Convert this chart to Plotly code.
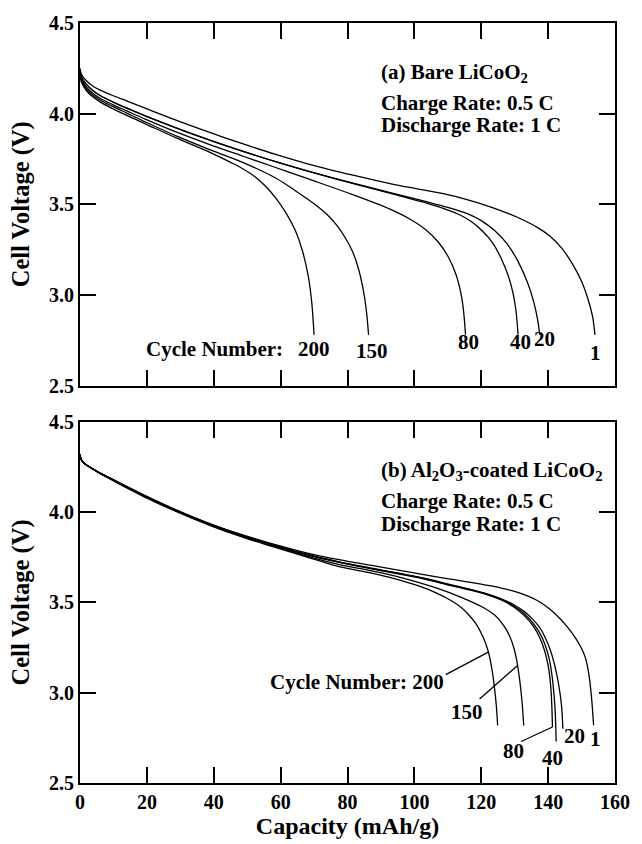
import plotly.graph_objects as go

# ---- (a) bare LiCoO2: discharge curves, capacity (mAh/g) vs voltage (V) ----
a1_cap = [0, 0.5, 2, 4, 6, 9.75, 14, 19.5, 29.3, 39, 48.8, 58.5, 68.3, 82, 93.7, 108.3, 116,
          122.9, 128, 132.7, 137, 140.5, 144, 147.3, 150, 152.2, 153.3, 154]
a1_v = [4.25, 4.215, 4.18, 4.15, 4.13, 4.10, 4.07, 4.03, 3.96, 3.895, 3.833, 3.775, 3.722,
        3.659, 3.61, 3.56, 3.525, 3.485, 3.45, 3.412, 3.37, 3.325, 3.26, 3.17, 3.075, 2.96, 2.88, 2.78]

a20_cap = [0, 0.5, 2, 4, 6, 9.75, 14, 19.5, 29.3, 39, 48.8, 58.5, 68.3, 82, 93.7, 103, 110,
           116, 120, 124, 127.8, 131, 134, 135.7, 136.8, 137.5]
a20_v = [4.24, 4.20, 4.16, 4.125, 4.10, 4.065, 4.03, 3.988, 3.918, 3.853, 3.792, 3.735, 3.683,
         3.615, 3.56, 3.517, 3.483, 3.447, 3.41, 3.355, 3.28, 3.185, 3.06, 2.96, 2.87, 2.78]

a40_cap = [0, 0.5, 2, 4, 6, 9.75, 14, 19.5, 29.3, 39, 48.8, 58.5, 68.3, 82, 93.7, 103, 108,
           113.2, 117, 120.5, 123.5, 126, 128, 129.5, 130.4, 131]
a40_v = [4.24, 4.20, 4.16, 4.125, 4.10, 4.065, 4.03, 3.988, 3.918, 3.853, 3.792, 3.735, 3.681,
         3.612, 3.556, 3.51, 3.482, 3.445, 3.405, 3.35, 3.285, 3.20, 3.11, 3.01, 2.91, 2.78]

a80_cap = [0, 0.5, 2, 4, 6, 9.75, 14, 19.5, 29.3, 39, 48.8, 58.5, 68.3, 82, 93.7, 99, 103.4,
           107, 110, 112.5, 114.3, 115.3]
a80_v = [4.23, 4.19, 4.145, 4.11, 4.085, 4.05, 4.015, 3.97, 3.895, 3.828, 3.765, 3.703, 3.64,
         3.55, 3.465, 3.415, 3.36, 3.295, 3.215, 3.11, 2.97, 2.78]

a150_cap = [0, 0.5, 2, 4, 6, 9.75, 14, 19.5, 29.3, 39, 48.8, 58.5, 64.4, 70.2, 74.1, 77, 79.5,
            81.5, 83.2, 84.6, 85.6, 86.3]
a150_v = [4.22, 4.18, 4.135, 4.10, 4.075, 4.04, 4.003, 3.955, 3.873, 3.80, 3.73, 3.645, 3.575,
          3.50, 3.44, 3.38, 3.31, 3.24, 3.15, 3.04, 2.92, 2.78]

a200_cap = [0, 0.5, 2, 4, 6, 9.75, 14, 19.5, 29.3, 39, 44.9, 48.8, 52.7, 56, 58.5, 61.5, 64.4,
            66.5, 68.3, 69.3, 70]
a200_v = [4.21, 4.17, 4.125, 4.09, 4.065, 4.028, 3.99, 3.944, 3.862, 3.785, 3.733, 3.695, 3.647,
          3.59, 3.535, 3.455, 3.355, 3.245, 3.10, 2.96, 2.78]

# ---- (b) Al2O3-coated LiCoO2 ----
b1_cap = [0, 0.3, 1, 2.3, 5, 9.2, 14, 18.9, 28.7, 38.4, 48.2, 57.9, 67.7, 77.5, 87.2, 101.5,
          111.2, 121, 126, 130.7, 134, 136.6, 139.5, 142.4, 145.5, 148.3, 150, 151.2, 152.2, 153, 153.6]
b1_v = [4.32, 4.295, 4.275, 4.257, 4.228, 4.187, 4.142, 4.097, 4.013, 3.94, 3.877, 3.823, 3.775,
        3.737, 3.705, 3.658, 3.628, 3.598, 3.58, 3.557, 3.535, 3.512, 3.478, 3.432, 3.37, 3.30,
        3.245, 3.19, 3.10, 2.97, 2.82]

b20_cap = [0, 0.3, 1, 2.3, 5, 9.2, 14, 18.9, 28.7, 38.4, 48.2, 57.9, 67.7, 77.5, 87.2, 101.5,
           111.2, 121, 125.8, 129.5, 132.7, 135.5, 137.5, 139, 140.5, 142, 143.2, 144, 144.4]
b20_v = [4.32, 4.295, 4.275, 4.257, 4.227, 4.186, 4.14, 4.095, 4.01, 3.937, 3.873, 3.818, 3.767,
         3.725, 3.69, 3.64, 3.597, 3.552, 3.522, 3.49, 3.452, 3.405, 3.36, 3.31, 3.245, 3.15,
         3.04, 2.93, 2.80]

b40_cap = [0, 0.3, 1, 2.3, 5, 9.2, 14, 18.9, 28.7, 38.4, 48.2, 57.9, 67.7, 77.5, 87.2, 101.5,
           111.2, 121, 125.8, 129.5, 132.7, 135.5, 137.5, 139, 140.3, 141.2, 141.8, 142.1, 142.3]
b40_v = [4.32, 4.295, 4.275, 4.257, 4.227, 4.186, 4.14, 4.095, 4.01, 3.937, 3.873, 3.818, 3.766,
         3.723, 3.688, 3.638, 3.595, 3.55, 3.518, 3.483, 3.44, 3.385, 3.33, 3.27, 3.19, 3.09,
         2.98, 2.90, 2.80]

b80_cap = [0, 0.3, 1, 2.3, 5, 9.2, 14, 18.9, 28.7, 38.4, 48.2, 57.9, 67.7, 77.5, 87.2, 101.5,
           111.2, 121, 125.8, 129.5, 132.7, 135.5, 137.5, 139, 140.1, 140.8, 141.1, 141.3]
b80_v = [4.32, 4.295, 4.275, 4.257, 4.227, 4.186, 4.14, 4.095, 4.01, 3.937, 3.873, 3.818, 3.765,
         3.722, 3.686, 3.636, 3.592, 3.548, 3.515, 3.478, 3.43, 3.37, 3.305, 3.23, 3.14, 3.03,
         2.93, 2.81]

b150_cap = [0, 0.3, 1, 2.3, 5, 9.2, 14, 18.9, 28.7, 38.4, 48.2, 57.9, 67.7, 77.5, 87.2, 96,
            106.3, 114, 121, 124, 126, 127.8, 129.3, 130.5, 131.5, 132.2, 132.7]
b150_v = [4.32, 4.295, 4.275, 4.257, 4.226, 4.184, 4.137, 4.091, 4.007, 3.933, 3.868, 3.812,
          3.758, 3.71, 3.675, 3.638, 3.582, 3.528, 3.468, 3.43, 3.39, 3.34, 3.275, 3.19, 3.07,
          2.95, 2.818]

b200_cap = [0, 0.3, 1, 2.3, 5, 9.2, 14, 18.9, 28.7, 38.4, 48.2, 57.9, 67.7, 77.5, 87.2, 94,
            101.5, 106.5, 111.2, 114, 116.1, 118.5, 120.5, 122, 123.1, 124, 124.5, 124.9]
b200_v = [4.32, 4.295, 4.275, 4.257, 4.225, 4.182, 4.134, 4.088, 4.004, 3.93, 3.864, 3.808,
          3.753, 3.698, 3.662, 3.632, 3.59, 3.553, 3.508, 3.472, 3.435, 3.38, 3.31, 3.235, 3.14,
          3.02, 2.93, 2.818]

# cycle-number labels: (text, capacity, voltage)
a_label_text = ["200", "150", "80", "40", "20", "1"]
a_label_cap = [70.0, 87.2, 116.2, 131.7, 139.0, 154.2]
a_label_v = [2.70, 2.69, 2.74, 2.74, 2.755, 2.68]

b_label_text = ["Cycle Number: 200", "150", "80", "40", "20", "1"]
b_label_cap = [109.6, 115.6, 129.7, 141.4, 147.8, 154.1]
b_label_v = [3.057, 2.892, 2.68, 2.638, 2.763, 2.745]

# leader lines in panel (b): (cap0, v0, cap1, v1)
b_leaders = [
    (122.1, 3.225, 109.4, 3.10),
    (130.8, 3.15, 119.5, 2.965),
    (141.3, 2.81, 131.9, 2.73),
    (142.3, 2.80, 142.4, 2.73),
]

FONT = "Liberation Serif"
LINE = dict(color="black", width=1.3, shape="spline", smoothing=1.0)

fig = go.Figure()

top_curves = [(a1_cap, a1_v), (a20_cap, a20_v), (a40_cap, a40_v),
              (a80_cap, a80_v), (a150_cap, a150_v), (a200_cap, a200_v)]
bottom_curves = [(b1_cap, b1_v), (b20_cap, b20_v), (b40_cap, b40_v),
                 (b80_cap, b80_v), (b150_cap, b150_v), (b200_cap, b200_v)]

for cap, v in top_curves:
    fig.add_trace(go.Scatter(x=cap, y=v, xaxis="x2", yaxis="y2", mode="lines",
                             line=LINE, showlegend=False, hoverinfo="skip"))
for cap, v in bottom_curves:
    fig.add_trace(go.Scatter(x=cap, y=v, xaxis="x", yaxis="y", mode="lines",
                             line=LINE, showlegend=False, hoverinfo="skip"))

tickfont = dict(family=FONT, size=20, color="black", weight="bold")
xtitlefont = dict(family=FONT, size=24, color="black", weight="bold")
ytitlefont = dict(family=FONT, size=24.5, color="black", weight="bold")

XRANGE = [0, 160]
YRANGE = [2.5, 4.5]
BOTTOM_DOMAIN = [0, 0.4751]
TOP_DOMAIN = [0.5229, 1]

# boxed frame with inside ticks on all four sides
base = dict(ticks="inside", ticklen=16, tickwidth=2, tickcolor="black", mirror="allticks",
            showline=True, linewidth=2, linecolor="black",
            showgrid=False, zeroline=False, tickfont=tickfont)
xstyle = dict(base, range=XRANGE, dtick=20, tick0=0)
ystyle = dict(base, range=YRANGE, dtick=0.5, tick0=2.5, tickformat=".1f")

fig.update_layout(
    width=642, height=844,
    margin=dict(l=80, r=15, t=20, b=60),
    paper_bgcolor="white", plot_bgcolor="white",
    xaxis=dict(xstyle, anchor="y", domain=[0, 1],
               title=dict(text="Capacity (mAh/g)", font=xtitlefont, standoff=2)),
    yaxis=dict(ystyle, anchor="x", domain=BOTTOM_DOMAIN,
               title=dict(text="Cell Voltage (V)", font=ytitlefont, standoff=12)),
    xaxis2=dict(xstyle, anchor="y2", domain=[0, 1], showticklabels=False),
    yaxis2=dict(ystyle, anchor="x2", domain=TOP_DOMAIN,
                title=dict(text="Cell Voltage (V)", font=ytitlefont, standoff=12)),
)

annfont = dict(family=FONT, size=21, color="black", weight="bold")
ann = []

# condition text blocks
for xr, yr, head in [("x2", "y2", "(a) Bare LiCoO<sub>2</sub>"),
                     ("x", "y", "(b) Al<sub>2</sub>O<sub>3</sub>-coated LiCoO<sub>2</sub>")]:
    for txt, vy in [(head, 4.226), ("Charge Rate: 0.5 C", 4.061), ("Discharge Rate: 1 C", 3.937)]:
        ann.append(dict(text=txt, x=89.4, y=vy, xref=xr, yref=yr, xanchor="left",
                        yanchor="middle", showarrow=False, font=annfont))

# panel (a) cycle labels
ann.append(dict(text="Cycle Number:", x=61.3, y=2.70, xref="x2", yref="y2",
                xanchor="right", yanchor="middle", showarrow=False, font=annfont))
for t, cx, vy in zip(a_label_text, a_label_cap, a_label_v):
    ann.append(dict(text=t, x=cx, y=vy, xref="x2", yref="y2", xanchor="center",
                    yanchor="middle", showarrow=False, font=annfont))

# panel (b) cycle labels
for i, (t, cx, vy) in enumerate(zip(b_label_text, b_label_cap, b_label_v)):
    ann.append(dict(text=t, x=cx, y=vy, xref="x", yref="y",
                    xanchor="right" if i == 0 else "center",
                    yanchor="middle", showarrow=False, font=annfont))

fig.update_layout(annotations=ann)

for x0, y0, x1, y1 in b_leaders:
    fig.add_shape(type="line", x0=x0, y0=y0, x1=x1, y1=y1, xref="x", yref="y",
                  line=dict(color="black", width=1.3))

fig.write_html("out.html")
